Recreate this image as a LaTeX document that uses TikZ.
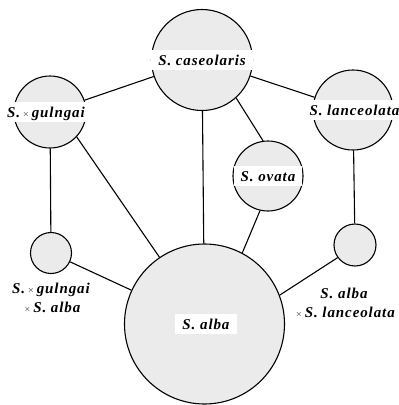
\documentclass[tikz,border=0pt]{standalone}
\usepackage{fontspec}
\setmainfont{Liberation Serif}
\newfontfamily\spfont{Liberation Serif}[LetterSpace=6]
\usepackage{tikz}
\usetikzlibrary{positioning}
\newcommand\hybx{\,\raisebox{1pt}{\fontsize{8}{8}\selectfont$\times$}\,}

\begin{document}
\begin{tikzpicture}[
        x=1pt, y=-1pt,
        every node/.style={font=\spfont\bfseries\itshape\fontsize{15}{19}\selectfont},
        taxon/.style={circle, draw, line width=1.1pt, fill=black!8, inner sep=0pt},
        lbl/.style={fill=white, inner xsep=7pt, inner ysep=3pt, text height=12pt, text depth=2pt},
        note/.style={align=center, inner sep=0pt},
        link/.style={line width=1.1pt}
    ]
        \useasboundingbox (0,0) rectangle (399,405);

        % Species and hybrids as circles
        \node[taxon, minimum size=101pt] (cas) at (202,60) {};
        \node[taxon, minimum size=72pt] (gul) at (50,112) {};
        \node[taxon, minimum size=80pt] (lan) at (353,110) {};
        \node[taxon, minimum size=70pt] (ova) at (268,176) {};
        \node[taxon, minimum size=41pt] (gulalb) at (51,253) {};
        \node[taxon, minimum size=42pt] (albalan) at (355,245) {};
        \node[taxon, minimum size=160pt] (alba) at (204.5,324) {};

        % Connect the circles
        \draw[link] (cas) -- (gul);
        \draw[link] (cas) -- (lan);
        \draw[link] (cas.-48) -- (ova.98);
        \draw[link] (cas) -- (alba);
        \draw[link] (gul.-43) -- (alba.124);
        \draw[link] (gul) -- (gulalb);
        \draw[link] (gulalb) -- (alba);
        \draw[link] (ova.257) -- (alba.62);
        \draw[link] (lan) -- (albalan);
        \draw[link] (albalan.216) -- (alba.21);

        % Names across the circles
        \node[lbl] (caslbl) at (cas) {S. caseolaris};
        \node[lbl] (gullbl) at ([xshift=-4pt]gul) {S.\hybx gulngai};
        \node[lbl] (lanlbl) at ([xshift=1.5pt]lan) {S. lanceolata};
        \node[lbl] (ovalbl) at (ova) {S. ovata};
        \node[lbl] (albalbl) at ([xshift=1.5pt]alba) {S. alba};

        % Names of the small hybrids
        \node[note] (gulalblbl) at (51,298) {S.\hybx gulngai\\\hybx S. alba};
        \node[note] (albalanlbl) at (344,302.5) {S. alba\\\hybx S. lanceolata};
    \end{tikzpicture}
\end{document}
